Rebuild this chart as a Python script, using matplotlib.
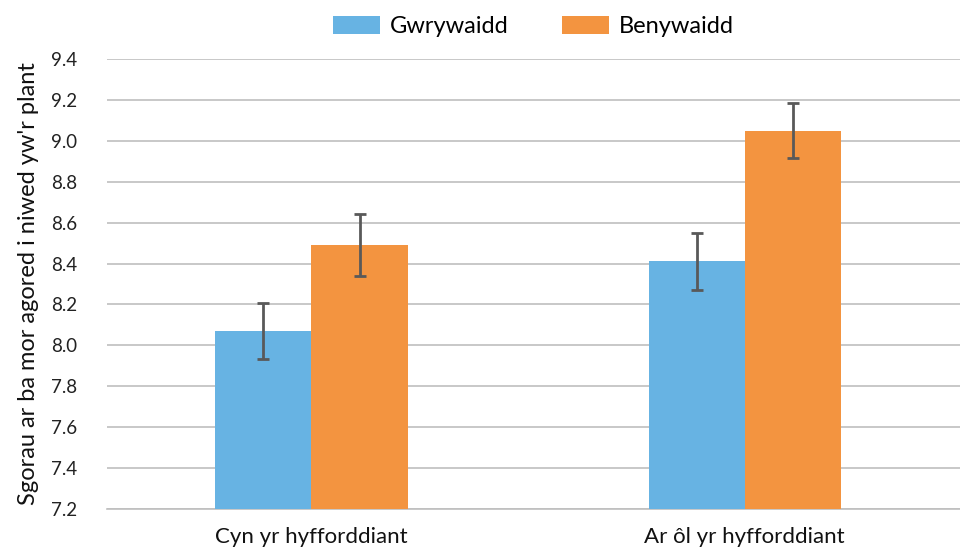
import matplotlib.pyplot as plt
import numpy as np

# Data
categories = ["Cyn yr hyfforddiant", "Ar ôl yr hyfforddiant"]
series_names = ["Gwrywaidd", "Benywaidd"]
male = [8.07, 8.41]
male_err = [0.135, 0.14]
female = [8.49, 9.05]
female_err = [0.153, 0.133]
yticks = [7.2, 7.4, 7.6, 7.8, 8.0, 8.2, 8.4, 8.6, 8.8, 9.0, 9.2, 9.4]

plt.rcParams["font.family"] = ["Lato", "DejaVu Sans"]

fig = plt.figure(figsize=(9.6, 5.49), dpi=100)
ax = fig.add_axes([0.111, 0.0729, 0.889, 0.8196])

x = np.arange(len(categories))
w = 0.222
err_kw = dict(ecolor="#595959", elinewidth=2, capsize=4.5, capthick=2)
ax.bar(x - w / 2, male, w, yerr=male_err, color="#67B3E3",
       label=series_names[0], error_kw=err_kw, zorder=3)
ax.bar(x + w / 2, female, w, yerr=female_err, color="#F39440",
       label=series_names[1], error_kw=err_kw, zorder=3)

ax.set_ylim(7.2, 9.4)
ax.set_xlim(-0.473, 1.497)
ax.set_yticks(yticks)
ax.set_yticklabels([f"{v:.1f}" for v in yticks])
ax.set_xticks(x)
ax.set_xticklabels(categories)
ax.tick_params(axis="y", length=0, pad=21, labelsize=13.5, colors="#222222")
ax.tick_params(axis="x", length=0, pad=13, labelsize=16, colors="#111111")
ax.yaxis.grid(True, color="#BFBFBF", linewidth=1.2, zorder=0)
for s in ["top", "right", "left"]:
    ax.spines[s].set_visible(False)
ax.spines["bottom"].set_color("#BFBFBF")
ax.spines["bottom"].set_linewidth(1.2)

ax.set_ylabel("Sgorau ar ba mor agored i niwed yw'r plant", fontsize=17,
              color="#111111", labelpad=9)

fig.legend(loc="upper center", bbox_to_anchor=(0.556, 1.01), ncol=2,
           frameon=False, fontsize=17, handlelength=2.0, handleheight=0.8,
           columnspacing=2.25, handletextpad=0.42)

fig.savefig("out.png", dpi=100)
